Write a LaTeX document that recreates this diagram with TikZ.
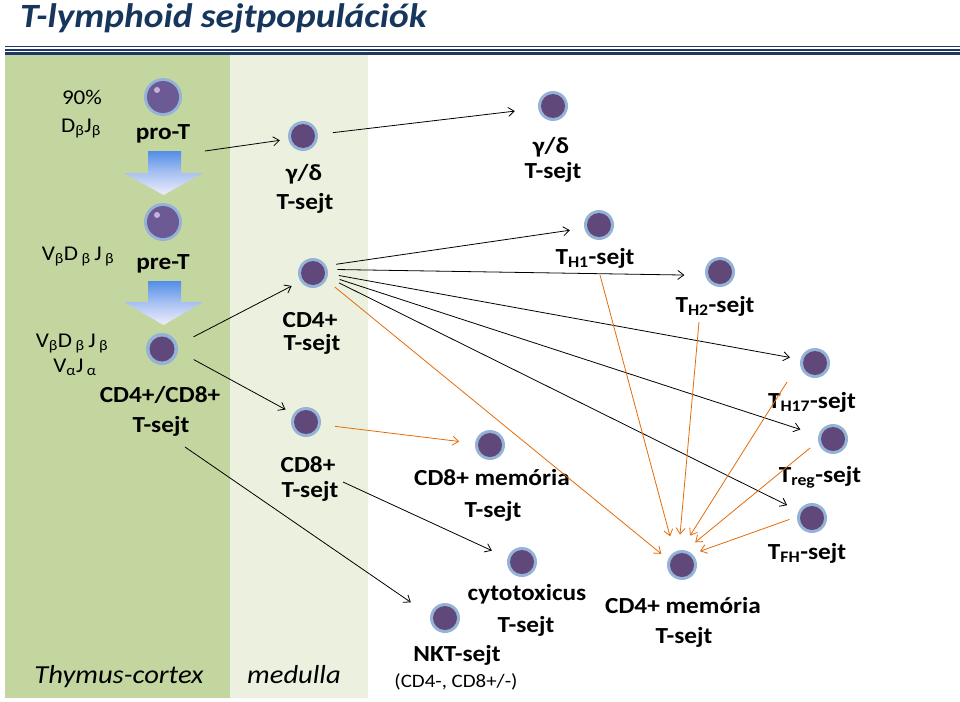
\documentclass[tikz,border=0pt]{standalone}
\usepackage{fontspec}
\setmainfont{Carlito}[FakeStretch=1.1]
\usetikzlibrary{arrows.meta,calc}
\definecolor{navy}{RGB}{31,56,100}
\definecolor{titleblue}{RGB}{23,54,93}
\definecolor{cortexc}{RGB}{196,214,160}
\definecolor{medullac}{RGB}{235,241,222}
\definecolor{ringc}{RGB}{149,179,215}
\definecolor{cellin}{RGB}{96,73,122}
\definecolor{cellpro}{RGB}{108,90,148}
\definecolor{hlc}{RGB}{196,178,222}
\definecolor{orangeline}{RGB}{228,108,10}
\definecolor{arrowblue}{RGB}{84,141,230}
\definecolor{arrowpale}{RGB}{238,238,252}
\tikzset{
  cell/.style={circle, fill=ringc, inner sep=0pt, outer sep=0pt, minimum size=30pt,
    path picture={\fill[cellin] (path picture bounding box.center) circle (12pt);}},
  dpcell/.style={circle, fill=ringc, inner sep=0pt, outer sep=0pt, minimum size=32pt,
    path picture={\fill[cellin] (path picture bounding box.center) circle (12.5pt);}},
  procell/.style={circle, fill=ringc, inner sep=0pt, outer sep=0pt, minimum size=38pt,
    path picture={\fill[cellpro] (path picture bounding box.center) circle (16pt);
      \fill[hlc] ($(path picture bounding box.center)+(-6pt,7pt)$) circle (3pt);}},
  lab/.style={font=\fontsize{23}{27}\selectfont\bfseries, inner sep=0pt, anchor=base},
  rlab/.style={font=\fontsize{21}{25}\selectfont, inner sep=0pt, anchor=base},
  slab/.style={font=\fontsize{19}{23}\selectfont, inner sep=0pt, anchor=base},
  ilab/.style={font=\fontsize{26}{30}\selectfont\itshape, inner sep=0pt, anchor=base},
  conn/.style={draw=black, line width=0.8pt, -{Straight Barb[length=6pt,width=9pt]}},
  oconn/.style={draw=orangeline, line width=0.8pt, -{Straight Barb[length=6pt,width=9pt]}},
  blockarrow/.style={top color=arrowblue, bottom color=arrowpale, middle color=arrowblue!45!arrowpale}
}
\begin{document}
\begin{tikzpicture}[x=1pt,y=-1pt]
\useasboundingbox (0,0) rectangle (960,701);
\fill[white] (0,0) rectangle (960,701);
% background bands
\fill[cortexc] (5,55) rectangle (230,698);
\fill[medullac] (230,55) rectangle (368,698);
% title and rules
\node[font=\fontsize{34}{38}\selectfont\bfseries\itshape, text=titleblue, inner sep=0pt, anchor=base west] (title) at (20,28) {T-lymphoid sejtpopulációk};
\draw[navy, line width=1pt] (5,46.5) -- (960,46.5);
\draw[navy, line width=2.2pt] (5,50) -- (960,50);
\draw[navy, line width=2.2pt] (5,53.5) -- (960,53.5);
% block arrows
\shade[blockarrow] (148,151) -- (181,151) -- (181,173) -- (203,173) -- (163.5,195) -- (124,173) -- (148,173) -- cycle;
\shade[blockarrow] (148,281) -- (181,281) -- (181,302) -- (203,302) -- (163.5,325) -- (124,302) -- (148,302) -- cycle;
% cells
\node[procell] (proT) at (163,97) {};
\node[procell] (preT) at (163,222) {};
\node[dpcell] (dp) at (162,349) {};
\node[cell] (gd1) at (303,136) {};
\node[cell] (cd4) at (313,273) {};
\node[cell] (cd8) at (306,422) {};
\node[cell] (gd2) at (553,106) {};
\node[cell] (th1) at (599,225) {};
\node[cell] (th2) at (720,272) {};
\node[cell] (th17) at (815,363) {};
\node[cell] (treg) at (833,439) {};
\node[cell] (tfh) at (812,518) {};
\node[cell] (cd8m) at (490,445) {};
\node[cell] (cyto) at (522,562) {};
\node[cell] (nkt) at (445,618) {};
\node[cell] (cd4m) at (682,565) {};
% labels
\node[rlab] (t90) at (82,104) {90\%};
\node[rlab] (tDJ) at (81,132) {D\textsubscript{β}J\textsubscript{β}};
\node[lab] (proTl) at (163,139) {pro-T};
\node[rlab] (tVDJa) at (78,260) {V\textsubscript{β}D\,\textsubscript{β}\,J\,\textsubscript{β}};
\node[lab] (preTl) at (163,269) {pre-T};
\node[rlab] (tVDJb) at (72,347) {V\textsubscript{β}D\,\textsubscript{β}\,J\,\textsubscript{β}};
\node[rlab] (tVJ) at (75,372) {V\textsubscript{α}J\,\textsubscript{α}};
\node[lab] (dpa) at (160,402) {CD4+/CD8+};
\node[lab] (dpb) at (161,432) {T-sejt};
\node[lab] (gd1a) at (304,180) {γ/δ};
\node[lab] (gd1b) at (305,209) {T-sejt};
\node[lab] (cd4a) at (310,327) {CD4+};
\node[lab] (cd4b) at (312,350) {T-sejt};
\node[lab] (cd8a) at (308,472) {CD8+};
\node[lab] (cd8b) at (310,497) {T-sejt};
\node[lab] (gd2a) at (551,153) {γ/δ};
\node[lab] (gd2b) at (553,178) {T-sejt};
\node[lab] (th1l) at (595,264) {T\textsubscript{H1}-sejt};
\node[lab] (th2l) at (715,312) {T\textsubscript{H2}-sejt};
\node[lab] (th17l) at (812,408) {T\textsubscript{H17}-sejt};
\node[lab] (tregl) at (820,482) {T\textsubscript{reg}-sejt};
\node[lab] (tfhl) at (807,559) {T\textsubscript{FH}-sejt};
\node[lab] (cd8ma) at (492,485) {CD8+ memória};
\node[lab] (cd8mb) at (493,517) {T-sejt};
\node[lab] (cytoa) at (527,600) {cytotoxicus};
\node[lab] (cytob) at (526,632) {T-sejt};
\node[lab] (nkta) at (457,661) {NKT-sejt};
\node[slab] (nktb) at (456,687) {(CD4-, CD8+/-)};
\node[lab] (cd4ma) at (683,613) {CD4+ memória};
\node[lab] (cd4mb) at (684,643) {T-sejt};
\node[ilab] (cortexl) at (119,683) {Thymus-cortex};
\node[ilab] (medl) at (294,683) {medulla};
% free connector ends
\coordinate (cA) at (205,151);
\coordinate (cE) at (185,447);
\coordinate (cF) at (343,482);
\coordinate (cN) at (600,275);
\coordinate (cO) at (699,322);
\coordinate (cP) at (787,382);
% black connectors
\draw[conn, shorten >=8.5pt] (cA) -- (gd1.192);
\draw[conn, shorten <=15pt, shorten >=23.5pt] (gd1.6) -- (gd2.189);
\draw[conn, shorten <=18pt, shorten >=10pt] (dp.14) -- (cd4.214);
\draw[conn, shorten <=18pt, shorten >=9pt] (dp.-7) -- (cd8.147);
\draw[conn, shorten >=23.5pt] (cE) -- (nkt.171);
\draw[conn, shorten >=17.3pt] (cF) -- (cyto.164);
\draw[conn, shorten <=10pt, shorten >=14.6pt] (cd4.29) -- (th1.192);
\draw[conn, shorten <=9.7pt, shorten >=21pt] (cd4.14) -- (th2.193);
\draw[conn, shorten <=11pt, shorten >=10.7pt] (cd4.-2) -- (th17.166);
\draw[conn, shorten <=12.5pt, shorten >=19pt] (cd4.-10) -- (treg.166);
\draw[conn, shorten <=13pt, shorten >=13pt] (cd4.-16) -- (tfh.152);
% orange connectors
\draw[oconn, shorten <=11pt, shorten >=8.8pt] (cd4.-28) -- (cd4m.158);
\draw[oconn, shorten <=14.4pt, shorten >=16pt] (cd8.-10) -- (cd8m.174);
\draw[oconn, shorten >=16.4pt] (cN) -- (cd4m.121);
\draw[oconn, shorten >=15.8pt] (cO) -- (cd4m.103);
\draw[oconn, shorten >=17pt] (cP) -- (cd4m.94);
\draw[oconn, shorten <=10.3pt, shorten >=12.7pt] (treg.189) -- (cd4m.77);
\draw[oconn, shorten <=8pt, shorten >=8.3pt] (tfh.175) -- (cd4m.47);
\end{tikzpicture}
\end{document}
